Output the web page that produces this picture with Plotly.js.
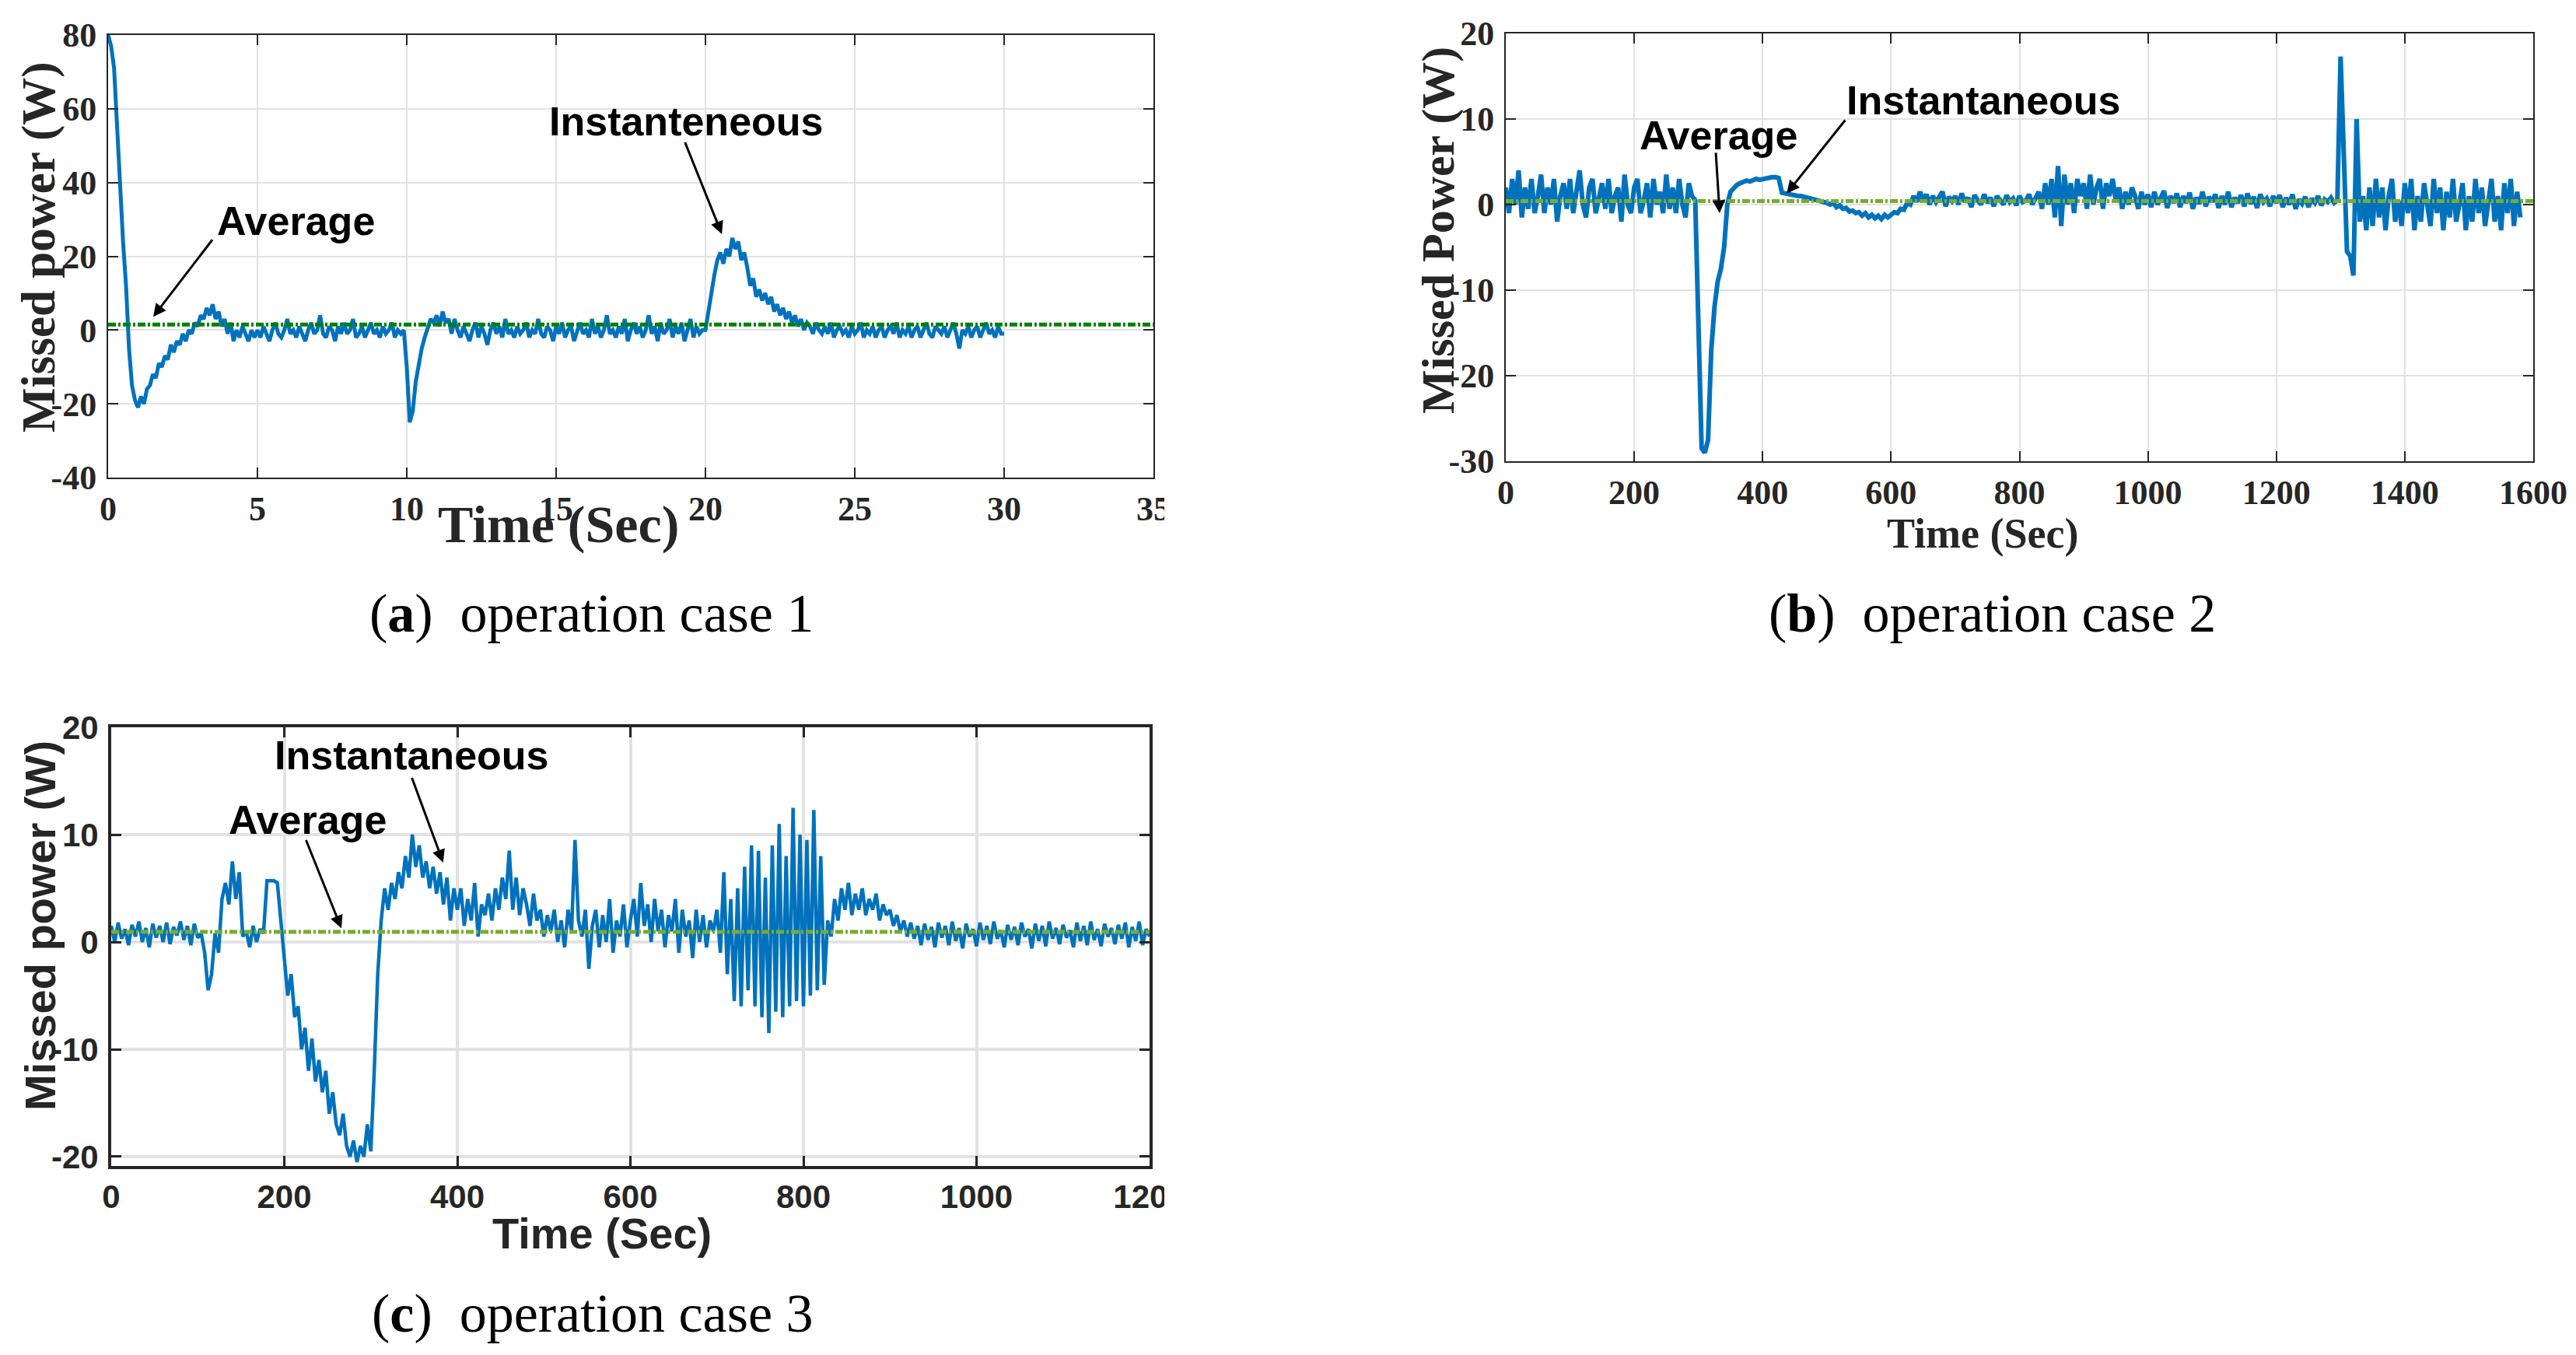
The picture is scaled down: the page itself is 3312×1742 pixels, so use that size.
<!DOCTYPE html>
<html>
<head>
<meta charset="utf-8">
<script src="https://cdn.plot.ly/plotly-3.0.1.min.js"></script>
<style>
  html, body { margin: 0; padding: 0; background: #fff; }
  #chart { width: 3312px; height: 1742px; }
</style>
</head>
<body>
<div id="chart"></div>
<script>
// --- operation case 1 : missed power sampled every 0.1 s (0 .. 30 s) ---
const caseOneStep = 0.1;
const caseOnePower = [
  80, 77, 71, 55, 37, 24, 12, -5, -15, -19,
  -21, -18, -20, -16, -15, -12, -13, -9, -10, -7,
  -8, -4, -6, -3, -4, -1, -3, 0, -1, 2,
  1, 4, 3, 6, 4, 7, 3, 5, 1, 3,
  -1, 2, -3, 0, -2, 1, -1, -3, 0, -2,
  0, -2, 1, -1, -3, 0, 2, -1, -2, 0,
  3, -1, 0, -2, 1, -1, -3, 0, 2, -1,
  0, 4, -1, -2, 1, 0, -3, 1, -1, 2,
  -1, 0, 3, -2, -1, 1, -2, 0, 2, -1,
  0, -2, 1, -1, 0, 2, -2, 0, -1, 0,
  -10, -25, -22, -14, -9, -5, -2, 1, 3, 2,
  4, 1, 5, 2, 3, -1, 3, 0, -2, 1,
  -1, -3, 0, 2, -2, 1, -1, -4, 0, 2,
  -1, 1, -2, 3, -1, 0, -2, 1, -1, 0,
  2, -2, 0, -1, 3, -1, -2, 1, 0, -3,
  1, -1, 2, -2, 0, 1, -3, 0, 2, -1,
  0, -2, 3, -1, 1, -2, 0, 4, -1, 0,
  -2, 1, -1, 3, -3, 0, 2, -1, 1, -2,
  0, 4, -1, 1, -3, 2, -1, 0, 3, -2,
  1, -1, 2, -3, 0, 3, -2, 1, -1, 0,
  0, 5, 11, 15, 19, 21, 18, 22, 20, 25,
  22, 24, 19, 21, 17, 12, 14, 9, 11, 8,
  10, 7, 9, 5, 7, 4, 6, 3, 5, 2,
  4, 1, 3, 0, 2, 1, -1, 2, 0, -1,
  1, -1, 2, -2, 0, 1, -1, 0, -2, 1,
  -1, 0, 2, -2, 0, -1, 1, -2, 0, 1,
  -2, 0, 1, -1, 2, -2, 0, -1, 1, -2,
  0, 1, -2, 0, 2, -1, -2, 1, 0, -1,
  1, -2, 0, 2, -1, -5, 0, -1, 1, -2,
  0, 1, -2, 0, 2, -1, 0, -2, 1, -1,
  -1
];
const caseOneAvgTime = [0, 35];
const caseOneAvgPower = [1.5, 1.5];

// --- operation case 2 : sampled every 5 s (0 .. 1580 s) ---
const caseTwoStep = 5;
const caseTwoPower = [
  2, -1, 3, 0, 4, -1.5, 2, -0.5, 3, -1,
  1, 3.5, -1, 2, 0, 3, -2, 1, 2.5, -0.5,
  3, -1, 1.5, 4, 0, -1.5, 2, 3, -1, 1,
  2.5, -0.5, 3, -1, 1, 2, -2, 3.5, 0, -1,
  2, 3, -1, 0.5, 2.5, -1.5, 3, 0, 1.5, -1,
  3.5, -0.5, 2, -1, 3, 0, -1.5, 2.5, 1, 0.5,
  -14, -28.5, -29, -27.5, -17, -12, -9, -7.5, -5, 0,
  1.5, 2, 2.3, 2.5, 2.6, 2.8, 2.7, 2.9, 3, 2.9,
  3, 3.1, 3.1, 3.2, 3.2, 3.1, 1.4, 1.3, 1.2, 1.1,
  1.1, 1, 1, 0.9, 0.8, 0.8, 0.7, 0.6, 0.5, 0.3,
  0.2, 0, 0.2, -0.3, -0.1, -0.5, -0.4, -0.8, -0.7, -1,
  -0.9, -1.3, -1, -1.5, -1.2, -1.6, -1.3, -1.7, -1.2, -1.5,
  -1.2, -0.9, -1, -0.5, -0.6, 0.2, 0, 1, 0.3, 1.5,
  0.5, 1.2, 0, 1, 0.3, 0.8, 1.5, -0.2, 0.9, 0.4,
  1, 0, 1.3, 0.3, 0.8, -0.3, 1.1, 0.5, 0, 1.2,
  0.2, 0.8, -0.2, 1, 0.4, 0, 1.1, 0.3, 0.7, -0.1,
  1, 0.3, 0.5, 1.2, 0, 0.8, 1.5, -0.5, 2.5, 0,
  3, -1.5, 4.5, -2.5, 3.5, 0, 2.5, -1, 3, 1,
  2.5, -0.5, 3.5, 0, 2, 3, -0.5, 2.5, 1, 3,
  0.5, 2, -0.5, 1.5, 0, 2, 1, -0.5, 1.5, 0,
  1.2, -0.3, 1.5, 0, 0.8, 1.6, -0.4, 1, 0.2, 1.3,
  -0.3, 1, 0.2, 1.4, -0.5, 0.8, 0.1, 1.5, -0.2, 0.9,
  0.3, 1.2, -0.4, 1, 0, 1.5, -0.3, 0.8, 0.2, 1.1,
  -0.2, 1.3, 0.1, 0.9, -0.4, 1.2, 0.3, 0.7, -0.2, 1,
  0.2, 1.1, -0.3, 0.8, 0, 1.2, -0.5, 0.6, 0.1, 0.9,
  -0.3, 0.7, 0.2, 1, -0.1, 0.6, 0.3, 0.8, 0.2, 0.5,
  17.3, 6, -5.5, -6, -8.3, 10, -2, 1, -3, 2,
  -2.5, 3, -1.5, 2, -3, 1, 3, -2, 0.5, -2.5,
  2.5, -1, 3, -3, 1, -2, 2.5, 0, -2.5, 3,
  -1, 2, -3, 1.5, -1.5, 3, -2, 0, 2.5, -3,
  1, -2, 3, -1, 2, -2.5, 0.5, 3, -2, 1,
  -3, 2.5, -1, 3, -2.5, 1.5, -1.5
];
const caseTwoAvgTime = [0, 1600];
const caseTwoAvgPower = [0.4, 0.4];

// --- operation case 3 : sampled every 4 s (0 .. 1200 s) ---
const caseThreeStep = 4;
const caseThreePower = [
  1.5, 0, 1.8, 0.3, 1.2, -0.3, 1.6, 0.5, 1.9, 0,
  1.3, -0.5, 1.7, 0.4, 1.5, 0, 1.8, -0.2, 1.4, 0.6,
  1.9, 0.2, 1.5, -0.3, 1.7, 0.4, 0.8, -1, -4.5, -3,
  0.8, -1, 4, 5.5, 3.5, 7.5, 4, 6.5, 0.5, 1,
  -0.5, 1.5, 0, 1.2, 0.8, 5.7, 5.7, 5.7, 5.5, 2,
  -1, -5, -3, -7, -6, -10, -8, -12, -9, -13,
  -11, -14, -12, -16, -14, -17, -18, -16, -19, -20,
  -18.5, -20.5, -19, -20, -17, -19.5, -12, -3, 2, 5,
  3, 5.5, 4, 6.5, 5, 8, 6, 10, 7, 9,
  6, 7.5, 5, 7, 4.5, 6.5, 3.5, 6, 2, 5,
  3, 5, 1.5, 4, 2, 5.5, 0.5, 3.5, 2.5, 4.5,
  2, 5, 3, 6, 4, 8.5, 3, 6, 2.5, 5,
  3.5, 1.5, 4.5, 2, 3, 0.5, 2.5, 1, 3, 0,
  2, -0.5, 3, 1, 9.5, 2, 0.5, 3, -2.5, 1.5,
  3, -0.5, 2.5, 0, 4, -1, 2, 0.5, 3.5, -0.5,
  2, 4, 0.5, 5.5, 1.5, 3.5, 0, 4, 1, 3,
  -0.5, 2.5, 1, 4, -1, 3, 0.5, 2, -1.5, 3,
  0, 2.5, -0.5, 2, 1, 3, -1, 6.5, -3, 4,
  -5.5, 5, -6, 7, -4.5, 9, -6, 8.5, -7, 6,
  -8.5, 9, -6.5, 11, -7, 8, -6, 12.5, -5.5, 10,
  -6, 9.5, -5, 12.3, -4.5, 8, -4, 2, 0.5, 4,
  2, 5, 3, 5.5, 2.5, 4.5, 3, 5, 2.5, 4,
  3, 4.5, 2, 3.5, 2.5, 3, 1.5, 2.5, 1, 2,
  0.5, 1.8, 0.3, 1.5, -0.3, 1.7, 0.2, 1.4, -0.5, 1.8,
  0.4, 1.5, -0.3, 1.9, 0.1, 1.3, -0.6, 1.7, 0.5, 1.2,
  -0.4, 1.8, 0.2, 1.5, -0.2, 1.9, 0.3, 1.1, -0.5, 1.6,
  0.2, 1.4, -0.3, 1.8, 0.5, 1.2, -0.6, 1.7, 0.1, 1.5,
  -0.4, 1.9, 0.3, 1.3, -0.2, 1.6, 0.4, 1.1, -0.5, 1.8,
  0.1, 1.5, -0.3, 1.9, 0.2, 1.2, -0.4, 1.7, 0.5, 1.3,
  -0.2, 1.6, 0.3, 1.8, -0.5, 1.4, 0.1, 1.9, -0.3, 1.2,
  0.5
];
const caseThreeAvgTime = [0, 1200];
const caseThreeAvgPower = [0.95, 0.95];

// --- axis ticks (labels keep the plain hyphen of the original) ---
const caseOneXTicks = [0, 5, 10, 15, 20, 25, 30, 35];
const caseOneYTicks = [-40, -20, 0, 20, 40, 60, 80];
const caseTwoXTicks = [0, 200, 400, 600, 800, 1000, 1200, 1400, 1600];
const caseTwoYTicks = [-30, -20, -10, 0, 10, 20];
const caseThreeXTicks = [0, 200, 400, 600, 800, 1000, 1200];
const caseThreeYTicks = [-20, -10, 0, 10, 20];

// ----------------------------------------------------------------------
const W = 3312, H = 1742;
const px = v => v / W;
const py = v => 1 - v / H;

const SERIF = '"Liberation Serif", "Times New Roman", serif';
const SANS = '"Liberation Sans", Arial, Helvetica, sans-serif';
const INK = '#262626';
const BLUE = '#0072BD';

// pixel boxes of the three plot areas
const boxA = { l: 139, r: 1483, t: 45, b: 614 };
const boxB = { l: 1936, r: 3257, t: 43, b: 593 };
const boxC = { l: 143, r: 1478, t: 935, b: 1499 };

function axis(box, horizontal, range, tickvals, family, size, frame, grid, anchor) {
  return {
    domain: horizontal ? [px(box.l), px(box.r)] : [py(box.b), py(box.t)],
    anchor: anchor,
    range: range,
    tickmode: 'array',
    tickvals: tickvals,
    ticktext: tickvals.map(String),
    ticks: 'inside',
    ticklen: 13,
    tickwidth: frame === 2 ? 2 : 3,
    tickcolor: INK,
    showline: true,
    linecolor: INK,
    linewidth: frame,
    mirror: 'ticks',
    showgrid: true,
    gridcolor: '#e2e2e2',
    gridwidth: grid,
    zeroline: false,
    ticklabelstandoff: horizontal ? 0 : 4,
    tickfont: { family: family, size: size, color: INK, weight: 'bold' },
    fixedrange: true
  };
}

const dashDot = '10px,3px,3px,3px';

const traces = [
  { x0: 0, dx: caseOneStep, y: caseOnePower, xaxis: 'x', yaxis: 'y', type: 'scatter', mode: 'lines',
    line: { color: BLUE, width: 5 }, name: 'Instanteneous' },
  { x: caseOneAvgTime, y: caseOneAvgPower, xaxis: 'x', yaxis: 'y', type: 'scatter', mode: 'lines',
    line: { color: '#008000', width: 5, dash: dashDot }, name: 'Average' },
  { x0: 0, dx: caseTwoStep, y: caseTwoPower, xaxis: 'x2', yaxis: 'y2', type: 'scatter', mode: 'lines',
    line: { color: BLUE, width: 6 }, name: 'Instantaneous' },
  { x: caseTwoAvgTime, y: caseTwoAvgPower, xaxis: 'x2', yaxis: 'y2', type: 'scatter', mode: 'lines',
    line: { color: '#77AC30', width: 5, dash: dashDot }, name: 'Average' },
  { x0: 0, dx: caseThreeStep, y: caseThreePower, xaxis: 'x3', yaxis: 'y3', type: 'scatter', mode: 'lines',
    line: { color: BLUE, width: 4.5 }, name: 'Instantaneous' },
  { x: caseThreeAvgTime, y: caseThreeAvgPower, xaxis: 'x3', yaxis: 'y3', type: 'scatter', mode: 'lines',
    line: { color: '#77AC30', width: 5, dash: dashDot }, name: 'Average' }
];

function label(text, x, y, family, size, angle) {
  return {
    text: text, x: x, y: y, xref: 'paper', yref: 'paper',
    xanchor: 'center', yanchor: 'middle', showarrow: false, textangle: angle || 0,
    font: { family: family, size: size, color: INK, weight: 'bold' }
  };
}

function callout(text, x, y, xr, yr) {
  return {
    text: text, x: x, y: y, xref: xr, yref: yr, xanchor: 'center', yanchor: 'middle',
    showarrow: false, font: { family: SANS, size: 52, color: '#000', weight: 'bold' }
  };
}

function arrow(xHead, yHead, xTail, yTail, xr, yr) {
  return {
    text: '', x: xHead, y: yHead, ax: xTail, ay: yTail, xref: xr, yref: yr, axref: xr, ayref: yr,
    showarrow: true, arrowhead: 2, arrowsize: 1.1, arrowwidth: 3, arrowcolor: '#000', standoff: 0
  };
}

function caption(letter, rest, x, y) {
  return {
    text: '(<b>' + letter + '</b>)\u2002' + rest, x: x, y: y, xref: 'paper', yref: 'paper',
    xanchor: 'center', yanchor: 'middle', showarrow: false,
    font: { family: SERIF, size: 70, color: '#000' }
  };
}

const annotations = [
  // axis titles
  label('Missed power (W)', px(50), py(318), SERIF, 61, -90),
  label('Time (Sec)', px(718), py(674), SERIF, 68),
  label('Missed Power (W)', px(1849), py(296), SERIF, 60, -90),
  label('Time (Sec)', px(2549), py(686), SERIF, 54),
  label('Missed power (W)', px(51), py(1190), SANS, 56, -90),
  label('Time (Sec)', px(774), py(1585), SANS, 56),
  // call-outs
  callout('Average', 6.3, 29.5, 'x', 'y'),
  arrow(1.51, 3.6, 3.52, 24.8, 'x', 'y'),
  callout('Instanteneous', 19.35, 56.5, 'x', 'y'),
  arrow(20.55, 26, 19.3, 51.2, 'x', 'y'),
  callout('Average', 331, 8.1, 'x2', 'y2'),
  arrow(333, -1, 327, 6.2, 'x2', 'y2'),
  callout('Instantaneous', 744, 12.2, 'x2', 'y2'),
  arrow(437.6, 1.3, 530, 10, 'x2', 'y2'),
  callout('Instantaneous', 347, 17.4, 'x3', 'y3'),
  arrow(383.6, 7.4, 347, 15.4, 'x3', 'y3'),
  callout('Average', 227, 11.4, 'x3', 'y3'),
  arrow(266, 1.27, 224.6, 9.6, 'x3', 'y3'),
  // sub-figure captions
  caption('a', 'operation case 1', px(760), py(788)),
  caption('b', 'operation case 2', px(2561), py(788)),
  caption('c', 'operation case 3', px(762), py(1688))
];

const layout = {
  width: W,
  height: H,
  margin: { l: 0, r: 0, t: 0, b: 0 },
  paper_bgcolor: '#ffffff',
  plot_bgcolor: '#ffffff',
  showlegend: false,
  hovermode: false,
  xaxis: axis(boxA, true, [0, 35], caseOneXTicks, SERIF, 44, 2, 2, 'y'),
  yaxis: axis(boxA, false, [-40, 80], caseOneYTicks, SERIF, 44, 2, 2, 'x'),
  xaxis2: axis(boxB, true, [0, 1600], caseTwoXTicks, SERIF, 44, 2, 2, 'y2'),
  yaxis2: axis(boxB, false, [-30, 20], caseTwoYTicks, SERIF, 44, 2, 2, 'x2'),
  xaxis3: axis(boxC, true, [0, 1200], caseThreeXTicks, SANS, 42, 4, 4, 'y3'),
  yaxis3: axis(boxC, false, [-20.87, 20], caseThreeYTicks, SANS, 42, 4, 4, 'x3'),
  annotations: annotations,
  // the original figures (a) and (c) were cropped on their right side
  shapes: [{
    type: 'rect', xref: 'paper', yref: 'paper', layer: 'above',
    x0: px(1497), x1: px(1800), y0: 0, y1: 1,
    fillcolor: '#ffffff', line: { width: 0 }
  }]
};

Plotly.newPlot('chart', traces, layout, { staticPlot: true, displayModeBar: false });
</script>
</body>
</html>
